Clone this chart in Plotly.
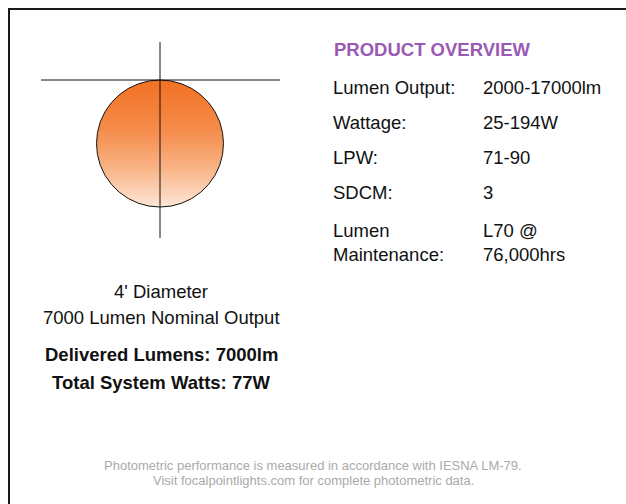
import numpy as np
import plotly.graph_objects as go

# ---------------- data ----------------
angles_deg = [0, 5, 10, 15, 20, 25, 30, 35, 40, 45, 50, 55, 60, 65, 70, 75, 80, 85, 90]
candela = [2228, 2220, 2194, 2152, 2094, 2019, 1930, 1826, 1707, 1575,
           1432, 1278, 1114, 942, 762, 577, 387, 194, 0]

overview_title = "PRODUCT OVERVIEW"
overview_labels = ["Lumen Output:", "Wattage:", "LPW:", "SDCM:", "Lumen<br>Maintenance:"]
overview_values = ["2000-17000lm", "25-194W", "71-90", "3", "L70 @<br>76,000hrs"]

fixture_lines = ["4' Diameter", "7000 Lumen Nominal Output"]
delivered_label = "Delivered Lumens: 7000lm"
watts_label = "Total System Watts: 77W"
footer_lines = ["Photometric performance is measured in accordance with IESNA LM-79.",
                "Visit focalpointlights.com for complete photometric data."]

# ---------------- geometry ----------------
W, H = 626, 504
FONT = "Liberation Sans, Arial, Helvetica, sans-serif"
FS = 18.5

th = np.radians(np.array(angles_deg, dtype=float))
r = np.array(candela, dtype=float)
xs = np.concatenate([-(r * np.sin(th))[::-1], (r * np.sin(th))[1:]])
ys = np.concatenate([-(r * np.cos(th))[::-1], -(r * np.cos(th))[1:]])

k = 17.54  # candela per pixel
x_left_px, x_right_px, origin_x = 41, 280, 160
y_top_px, y_bot_px, origin_y = 42, 238, 80

fig = go.Figure()
fig.add_trace(go.Scatter(
    x=xs, y=ys, mode="lines",
    line=dict(color="#111111", width=1),
    fill="toself",
    fillgradient=dict(type="vertical",
                      colorscale=[[0, "#fde6d7"], [0.3, "#f8b487"],
                                  [0.6, "#f58c4b"], [1, "#f27023"]]),
    hoverinfo="skip", showlegend=False,
))

axis_common = dict(showgrid=False, zeroline=False, showticklabels=False,
                   showline=False, ticks="", fixedrange=True)
fig.update_layout(
    width=W, height=H,
    margin=dict(l=0, r=0, t=0, b=0),
    paper_bgcolor="white", plot_bgcolor="rgba(0,0,0,0)",
    xaxis=dict(domain=[x_left_px / W, x_right_px / W],
               range=[-(origin_x - x_left_px) * k, (x_right_px - origin_x) * k],
               **axis_common),
    yaxis=dict(domain=[1 - y_bot_px / H, 1 - y_top_px / H],
               range=[-(y_bot_px - origin_y) * k, (origin_y - y_top_px) * k],
               **axis_common),
    showlegend=False,
    hovermode=False,
)

# crosshair axes through the photometric origin
fig.add_shape(type="line", xref="x domain", yref="y", x0=0, x1=1, y0=0, y1=0,
              line=dict(color="#111111", width=1), layer="above")
fig.add_shape(type="line", xref="x", yref="y domain", x0=0, x1=0, y0=0, y1=1,
              line=dict(color="#111111", width=1), layer="above")

# page border (left and top edges only; the rest runs off the page)
fig.add_shape(type="line", xref="paper", yref="paper",
              x0=9 / W, x1=9 / W, y0=-0.05, y1=1 - 8 / H,
              line=dict(color="#1a1a1a", width=2), layer="above")
fig.add_shape(type="line", xref="paper", yref="paper",
              x0=8 / W, x1=1.05, y0=1 - 9 / H, y1=1 - 9 / H,
              line=dict(color="#1a1a1a", width=2), layer="above")


def px_ann(text, x, y, size=FS, color="#111111", bold=False, xanchor="left"):
    t = f"<b>{text}</b>" if bold else text
    fig.add_annotation(text=t, x=x / W, y=1 - y / H, xref="paper", yref="paper",
                       xanchor=xanchor, yanchor="middle", showarrow=False,
                       align="left" if xanchor == "left" else "center",
                       font=dict(family=FONT, size=size, color=color))


# right panel
px_ann(overview_title, 332, 50, color="#9b59b6", bold=True)
row_y = [87, 122, 157, 192, 242]
for lab, val, yy in zip(overview_labels, overview_values, row_y):
    px_ann(lab, 331, yy)
    px_ann(val, 481, yy)

# left text block
px_ann(fixture_lines[0], 161, 291, xanchor="center")
px_ann(fixture_lines[1], 161, 317, xanchor="center")
px_ann(delivered_label, 161, 354, bold=True, xanchor="center")
px_ann(watts_label, 161, 382, bold=True, xanchor="center")

# footer
px_ann(footer_lines[0], 313, 465, size=13, color="#aaaaaa", xanchor="center")
px_ann(footer_lines[1], 313, 480, size=13, color="#aaaaaa", xanchor="center")

fig.write_html("out.html",
               config={"displayModeBar": False, "staticPlot": True},
               post_script="document.body.style.margin='0';"
                           "document.body.style.overflow='hidden';"
                           "document.documentElement.style.overflow='hidden';")
